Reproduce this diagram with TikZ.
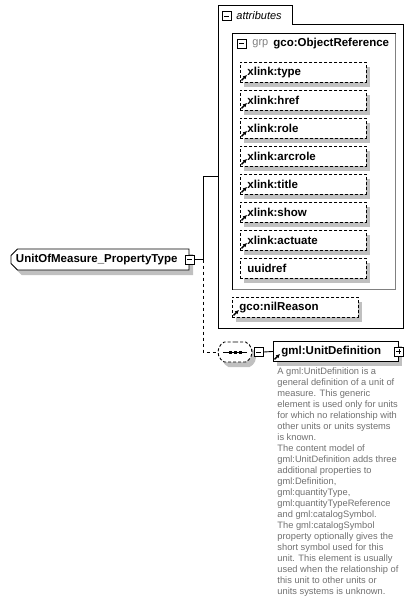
\documentclass[tikz,border=0pt]{standalone}
\usepackage{fontspec}
\setmainfont{Liberation Sans}
\usetikzlibrary{shapes.misc, shadows, arrows.meta}
\definecolor{shadowgray}{RGB}{192,192,192}
\definecolor{docgray}{RGB}{112,112,112}
\definecolor{grpgray}{RGB}{128,128,128}

% kleiner Verweispfeil unten links im Kasten
\newcommand{\linkarrow}[1]{\draw[line width=1.3pt, -{Latex[length=4pt,width=4pt]}] ([shift={(1.5pt,2.5pt)}]#1.south west) -- ++(5.5,-5.5);}

\begin{document}
\begin{tikzpicture}[x=1pt, y=-1pt, >=latex, line width=0.9pt,
	font=\bfseries\fontsize{11.5}{13}\selectfont,
	shade/.style={drop shadow={shadow xshift=4pt, shadow yshift=-5pt, fill=shadowgray, opacity=1}},
	attr/.style={draw, dash pattern=on 3pt off 2pt, fill=white, shade, anchor=north west, minimum height=20pt, text width=112pt, inner xsep=7pt, inner ysep=0pt, align=left},
	elem/.style={draw, fill=white, shade, anchor=north west, minimum height=20pt, text width=109pt, inner xsep=8pt, inner ysep=0pt, align=left},
	minusbox/.style={draw, fill=white, minimum size=9pt, inner sep=0pt, line width=0.8pt,
		path picture={\draw[line width=0.8pt] ([xshift=2pt]path picture bounding box.west) -- ([xshift=-2pt]path picture bounding box.east);}},
	plusbox/.style={minusbox,
		path picture={\draw[line width=0.8pt] ([xshift=2pt]path picture bounding box.west) -- ([xshift=-2pt]path picture bounding box.east)
			([yshift=-2pt]path picture bounding box.north) -- ([yshift=2pt]path picture bounding box.south);}}]
	\useasboundingbox (0,0) rectangle (413,604);
	% Attribute-Kasten mit Reiter
	\node[inner sep=0pt, minimum width=185pt, minimum height=304pt, anchor=north west] (attrs) at (218,24) {};
	\draw (attrs.south west) -- ([yshift=19pt]attrs.north west) -- ++(74,0) -- ++(0,19) -| (attrs.south east) -- cycle;
	\node[minusbox] (attrminus) at (226.5,16) {};
	\node[right, inner sep=0pt, font=\itshape\fontsize{11}{13}\selectfont] (attrlbl) at (236,16) {attributes};
	% Gruppe
	\node[inner sep=0pt, minimum width=163pt, minimum height=256pt, anchor=north west] (grp) at (232,33) {};
	\draw[grpgray] (grp.north east) |- (grp.south west);
	\draw (grp.south west) |- (grp.north east);
	\node[minusbox] (grpminus) at (241.5,43.5) {};
	\node[right, inner sep=0pt, grpgray, font=\fontsize{11}{13}\selectfont] (grplbl) at (252,44) {grp};
	\node[right, inner sep=0pt] (grpname) at (273,44) {gco:ObjectReference};
	% Attribute
	\foreach \lbl [count=\i from 0] in {type,href,role,arcrole,title,show,actuate} {
		\node[attr] (a\i) at (240,{62+28*\i}) {xlink:\lbl};
		\linkarrow{a\i}
	}
	\node[attr] (uuid) at (240,258) {uuidref};
	\node[attr] (nil) at (232,297) {gco:nilReason};
	\linkarrow{nil}
	% Wurzel
	\node[draw, fill=white, shade, chamfered rectangle, chamfered rectangle corners={north west,south west},
		chamfered rectangle xsep=3pt, chamfered rectangle angle=45, minimum height=21pt, text width=168pt,
		inner xsep=2pt, inner ysep=0pt, align=left] (root) at (100,259.5) {UnitOfMeasure\_PropertyType};
	\node[minusbox] (rootminus) at (root.east) {};
	% Sequenz
	\node[draw, dash pattern=on 3pt off 2pt, fill=white, shade, rounded rectangle, rounded rectangle arc length=130,
		minimum width=34pt, minimum height=20pt, inner sep=0pt] (seq) at (235,352) {};
	\draw ([xshift=-12pt]seq.center) -- ([xshift=12pt]seq.center);
	\foreach \dx in {-6.5,-1.5,3.5} \fill ([shift={(\dx pt,-1.5pt)}]seq.center) rectangle ++(3,-3);
	\node[minusbox, anchor=west] (seqminus) at ([xshift=1.5pt]seq.east) {};
	% Element
	\node[elem] (unitdef) at (273,341) {gml:UnitDefinition};
	\linkarrow{unitdef}
	\node[plusbox] (unitplus) at (unitdef.east) {};
	% Verbindungen
	\draw (rootminus.east) -- ++(9,0) |- (attrs.west);
	\draw[dash pattern=on 3pt off 3pt] ([xshift=9pt]rootminus.east) |- (seq.west);
	\draw (seqminus.east) -- (unitdef.west);
	% Beschreibung
	\node[anchor=north west, inner sep=0pt, docgray, align=left, font=\fontsize{9.3}{11}\selectfont] (doc) at (277,367) {A gml:UnitDefinition is a\\general definition of a unit of\\measure. This generic\\element is used only for units\\for which no relationship with\\other units or units systems\\is known.\\The content model of\\gml:UnitDefinition adds three\\additional properties to\\gml:Definition,\\gml:quantityType,\\gml:quantityTypeReference\\and gml:catalogSymbol.\\The gml:catalogSymbol\\property optionally gives the\\short symbol used for this\\unit. This element is usually\\used when the relationship of\\this unit to other units or\\units systems is unknown.};
\end{tikzpicture}
\end{document}
